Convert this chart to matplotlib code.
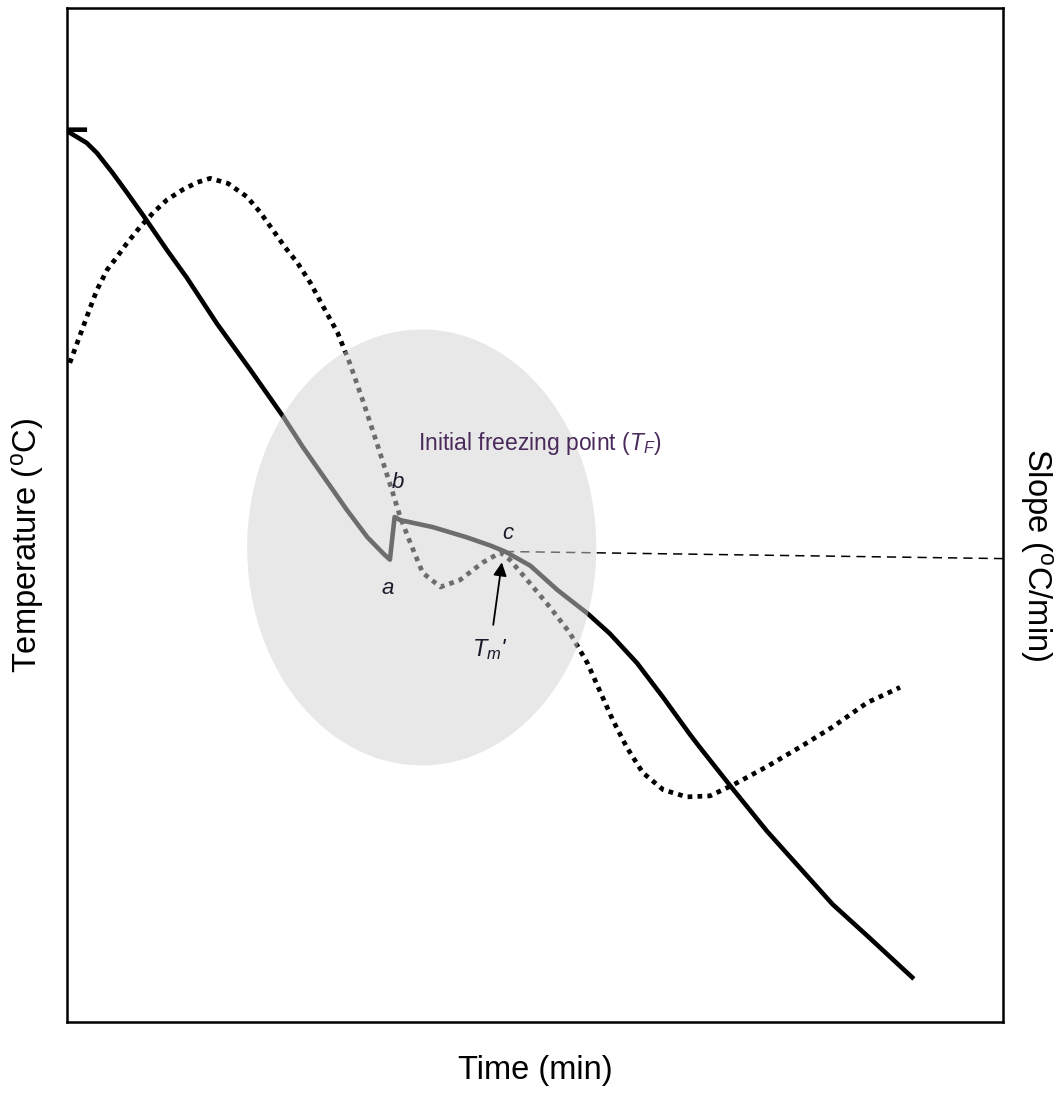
import matplotlib
matplotlib.use('Agg')
import matplotlib.pyplot as plt
from matplotlib.patches import Ellipse

plt.rcParams['font.family'] = ['Liberation Sans', 'DejaVu Sans']
plt.rcParams['mathtext.fontset'] = 'custom'
plt.rcParams['mathtext.rm'] = 'Liberation Sans'
plt.rcParams['mathtext.it'] = 'Liberation Sans:italic'

# temperature curve (solid), arbitrary units, time 0-100
time_temp = [1.9, 0.1, 0.3, 2.1, 3.2, 4.9, 6.4, 8.1, 10.7, 12.8, 16.0, 19.6, 23.1, 25.2,
             29.9, 32.1, 33.9, 34.5, 35.0, 35.6, 39.1, 42.7, 45.2, 46.8, 49.5, 52.4,
             55.6, 58.0, 60.9, 63.7, 66.6, 67.6, 71.2, 74.8, 78.3, 81.8, 85.5, 90.3]
temp = [88.0, 88.0, 87.7, 86.7, 85.7, 83.7, 81.8, 79.6, 76.1, 73.4, 68.9, 64.3, 59.7, 56.7,
        50.5, 47.8, 46.1, 45.6, 49.8, 49.5, 48.8, 47.8, 47.0, 46.4, 45.0, 42.6,
        40.3, 38.3, 35.4, 32.0, 28.3, 27.1, 22.9, 18.8, 15.2, 11.6, 8.5, 4.4]

# slope curve (dotted)
time_slope = [0.3, 1.1, 1.7, 2.5, 3.2, 4.3, 5.3, 6.4, 7.8, 9.2, 10.7, 12.4, 13.9, 15.3,
              17.2, 19.2, 20.6, 22.0, 23.3, 24.6, 26.0, 27.4, 28.9, 30.2, 31.6, 33.1,
              34.7, 35.6, 36.7, 38.0, 39.9, 42.0, 44.4, 46.3, 47.3, 49.8, 51.6, 53.7,
              55.6, 56.9, 58.3, 59.8, 61.5, 63.7, 66.2, 68.7, 71.2, 74.8, 78.3, 81.8,
              85.5, 89.0]
slope = [65.0, 67.0, 68.5, 70.5, 72.2, 74.2, 75.4, 76.8, 78.4, 79.8, 81.1, 82.1, 82.8, 83.2,
         82.7, 81.4, 79.9, 78.1, 76.4, 74.9, 72.9, 70.5, 68.0, 65.0, 61.3, 57.1,
         52.5, 49.8, 47.2, 44.3, 42.9, 43.6, 45.3, 46.3, 45.6, 42.9, 40.9, 38.4,
         35.4, 32.7, 29.8, 27.1, 24.6, 22.9, 22.2, 22.3, 23.4, 25.2, 27.1, 29.1,
         31.5, 33.0]

# Tm' reference line
tm_time = [46.8, 100]
tm_temp = [46.4, 45.7]

fig = plt.figure(figsize=(10.62, 10.99), dpi=100)
ax = fig.add_axes([67 / 1062, 77 / 1099, 936 / 1062, 1014 / 1099])

ax.plot(time_temp, temp, color='black', lw=3.3, solid_joinstyle='round', zorder=2)
ax.plot(time_slope, slope, color='black', lw=3.4, linestyle=(0, (1, 1.1)), zorder=2)
ax.plot(tm_time, tm_temp, color='black', lw=1.1, linestyle=(0, (6, 4)), zorder=2)

# shaded region around the freezing point
ell = Ellipse((37.9, 46.8), 37.3, 43.0, facecolor=(0.827, 0.827, 0.827), alpha=0.52,
              edgecolor='none', zorder=3)
ax.add_patch(ell)

ax.text(37.5, 57.1, 'Initial freezing point ($T_F$)', fontsize=16.5, color='#4a2a5a',
        va='center', ha='left', zorder=5)
ax.text(35.3, 53.2, 'b', fontsize=16, style='italic', color='#1a1a2a', ha='center', va='center', zorder=5)
ax.text(34.3, 42.8, 'a', fontsize=16, style='italic', color='#1a1a2a', ha='center', va='center', zorder=5)
ax.text(47.1, 48.2, 'c', fontsize=16, style='italic', color='#1a1a2a', ha='center', va='center', zorder=5)
ax.text(45.2, 36.7, "$T_m$'", fontsize=17, style='italic', color='#1a1a2a', ha='center', va='center', zorder=5)
ax.annotate('', xy=(46.5, 45.6), xytext=(45.5, 38.9),
            arrowprops=dict(arrowstyle='-|>', color='black', lw=1.3, mutation_scale=20),
            zorder=5)

ax.set_xlim(0, 100)
ax.set_ylim(0, 100)
ax.set_xticks([])
ax.set_yticks([])
for s in ax.spines.values():
    s.set_linewidth(1.8)

# axis titles placed by hand
fig.text(535 / 1062, 1 - 1070 / 1099, 'Time (min)', fontsize=23.5, ha='center', va='center')
fig.text(28 / 1062, 1 - 545 / 1099, 'Temperature ($^{\\mathrm{o}}$C)', fontsize=23.5,
         rotation=90, ha='center', va='center')
fig.text(1036 / 1062, 1 - 555 / 1099, 'Slope ($^{\\mathrm{o}}$C/min)', fontsize=23.5,
         rotation=-90, ha='center', va='center')

fig.savefig('out.png', dpi=100)
